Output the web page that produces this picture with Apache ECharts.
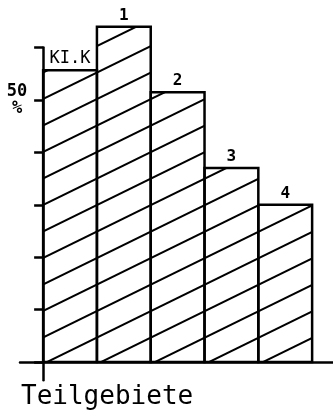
<!DOCTYPE html>
<html>
<head>
<meta charset="UTF-8">
<script src="https://cdn.jsdelivr.net/npm/echarts@6/dist/echarts.min.js"></script>
</head>
<body style="margin:0">
<div id="chart" style="width:333px;height:410px"></div>
<script>
var gebiete = ['KI.K', '1', '2', '3', '4'];
var anteil = [55.7, 64, 51.5, 37, 30];
var yTicks = [0, 10, 20, 30, 40, 50, 60];
var yLabels = [50];

// Schraffur-Kachel (Linien steigen nach rechts)
function hatch() {
    var c = document.createElement('canvas');
    c.width = 108; c.height = 53;
    var ctx = c.getContext('2d');
    ctx.strokeStyle = '#000';
    ctx.lineWidth = 2;
    var s = 26.5 / 54, off = 12.4;
    for (var k = -1; k <= 6; k++) {
        ctx.beginPath();
        ctx.moveTo(-4, 26.5 * k + 4 * s - off);
        ctx.lineTo(112, 26.5 * k - 112 * s - off);
        ctx.stroke();
    }
    return c;
}
var tile = hatch();

var font = '"DejaVu Sans Mono", monospace';

var option = {
    animation: false,
    title: {
        text: 'Teilgebiete',
        left: 16, top: 379,
        textStyle: { fontFamily: font, fontSize: 26, fontWeight: 'normal', color: '#000' }
    },
    grid: { left: 20, right: 0, top: 47.6, bottom: 29.7, outerBoundsMode: 'none', containLabel: false },
    xAxis: {
        type: 'value',
        min: -0.43, max: 5.388,
        axisLine: { onZero: true, lineStyle: { color: '#000', width: 2.5 } },
        axisTick: { show: false },
        axisLabel: { show: false },
        splitLine: { show: false }
    },
    yAxis: {
        type: 'value',
        min: -3.5, max: 60,
        axisLine: { onZero: true, lineStyle: { color: '#000', width: 2.5 } },
        axisTick: { show: true, customValues: yTicks, length: 9, lineStyle: { color: '#000', width: 2.5 } },
        axisLabel: {
            customValues: yLabels,
            // Beschriftung sitzt am Gitterrand, nicht an der verschobenen Achse
            margin: 3,
            align: 'center',
            formatter: function (v) { return v + '\n%'; },
            fontFamily: font, fontSize: 17, fontWeight: 'bold', color: '#000', lineHeight: 17
        },
        splitLine: { show: false }
    },
    series: [{
        type: 'custom',
        data: anteil.map(function (v, i) { return [i, v]; }),
        renderItem: function (params, api) {
            var i = api.value(0);
            var p0 = api.coord([i, 0]);
            var p1 = api.coord([i + 1, api.value(1)]);
            return {
                type: 'group',
                children: [{
                    type: 'rect',
                    shape: { x: p0[0], y: p1[1], width: p1[0] - p0[0], height: p0[1] - p1[1] },
                    style: { fill: { image: tile, repeat: 'repeat' }, stroke: '#000', lineWidth: 2.5 }
                }, {
                    type: 'text',
                    style: {
                        text: gebiete[i],
                        x: (p0[0] + p1[0]) / 2, y: p1[1] - 3,
                        align: 'center', verticalAlign: 'bottom',
                        font: (i === 0 ? 'normal 17px ' : 'bold 16px ') + font,
                        fill: '#000'
                    }
                }]
            };
        }
    }]
};

var chart = echarts.init(document.getElementById('chart'));
chart.setOption(option);
</script>
</body>
</html>
